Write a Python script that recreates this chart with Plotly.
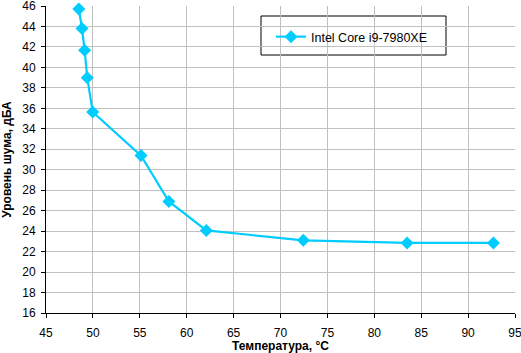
import plotly.graph_objects as go

temperature = [48.5, 48.84, 49.12, 49.4, 49.98, 55.13, 58.1, 62.09, 72.43, 83.5, 92.7]
noise = [45.7, 43.8, 41.67, 39.0, 35.64, 31.38, 26.9, 24.07, 23.1, 22.85, 22.85]
series_name = "Intel Core i9-7980XE"
x_ticks = list(range(45, 96, 5))
y_ticks = list(range(16, 47, 2))

color = "#00CCFF"
font = "Liberation Sans, Arial, sans-serif"

fig = go.Figure()
fig.add_trace(go.Scatter(
    x=temperature, y=noise, name=series_name, mode="lines+markers",
    line=dict(color=color, width=2.2),
    marker=dict(symbol="diamond", size=10, color=color),
    cliponaxis=False,
))

axis_common = dict(
    showgrid=True, gridcolor="#C0C0C0", gridwidth=1,
    showline=True, linecolor="black", linewidth=1,
    ticks="outside", ticklen=4, tickcolor="black",
    tickfont=dict(family=font, size=12, color="black"),
    zeroline=False, ticklabeloverflow="allow", automargin=False,
)

# legend frame (paper coords of plot area: x 46..515, y 6..313 px)
fig.add_shape(type="rect", xref="paper", yref="paper",
              x0=(261 - 46) / 469, x1=(446 - 46) / 469,
              y0=(313 - 55) / 307, y1=(313 - 16) / 307,
              line=dict(color="black", width=1), fillcolor="white", layer="between")

fig.update_layout(
    width=521, height=353,
    margin=dict(l=46, r=6, t=6, b=40),
    paper_bgcolor="white", plot_bgcolor="white",
    font=dict(family=font, size=12, color="black"),
    xaxis=dict(range=[45, 95], tickvals=x_ticks, ticklabelstandoff=5,
               title=dict(text="<b>Температура, °C</b>", font=dict(size=12), standoff=2),
               **axis_common),
    yaxis=dict(range=[16, 46], tickvals=y_ticks, ticklabelstandoff=3,
               title=dict(text="<b>Уровень шума, дБА</b>", font=dict(size=12), standoff=12),
               **axis_common),
    showlegend=True,
    legend=dict(x=(271 - 46) / 469, y=(313 - 22) / 307, xanchor="left", yanchor="top",
                bgcolor="rgba(0,0,0,0)", borderwidth=0,
                font=dict(family=font, size=12.5, color="black")),
)

fig.write_html("out.html")
